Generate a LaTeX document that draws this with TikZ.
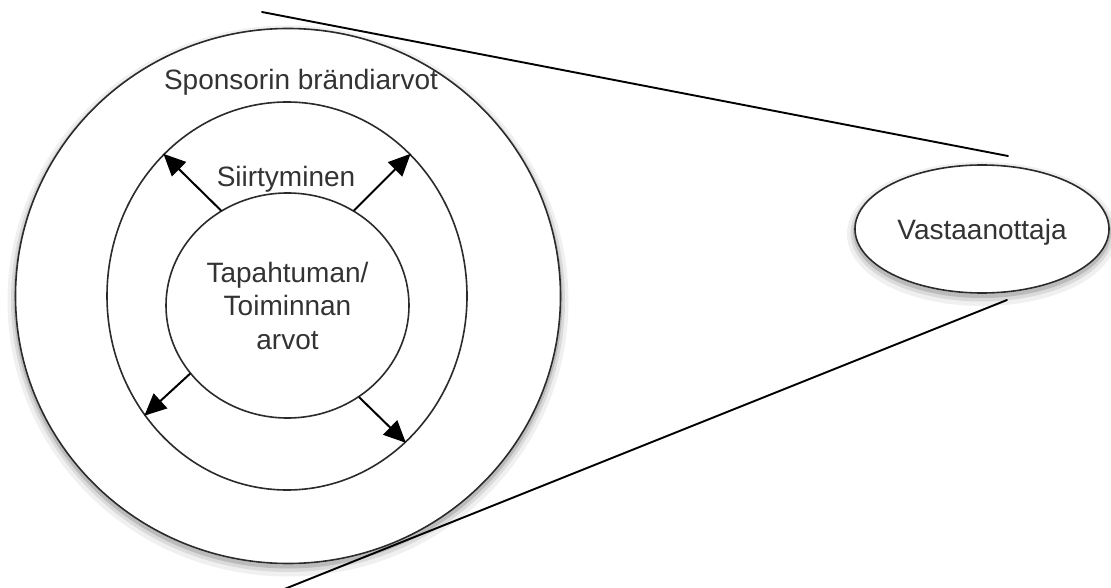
\documentclass[tikz,border=0pt]{standalone}
\usepackage{fontspec}
\setmainfont{Liberation Sans}
\usetikzlibrary{shapes.geometric,shadows,arrows.meta}
\definecolor{ringline}{HTML}{2B2B2B}
\definecolor{lbltext}{HTML}{333333}

\begin{document}
\begin{tikzpicture}[x=1pt,y=-1pt,line cap=round,line join=round,
  ring/.style={ellipse,draw=ringline,line width=1.6pt,inner sep=0pt},
  softshadow/.style={
    general shadow={draw=black,draw opacity=.06,line width=16pt,shadow yshift=-5pt},
    general shadow={draw=black,draw opacity=.09,line width=9pt,shadow yshift=-4pt},
    general shadow={draw=black,draw opacity=.14,line width=4pt,shadow yshift=-3pt}},
  lbl/.style={text=lbltext,font=\fontsize{28}{33.5}\selectfont},
  spread/.style={line width=2pt,-{Triangle[length=22pt,width=20pt]}},
  tangent/.style={line width=1.9pt}]

  \useasboundingbox (0,0) rectangle (1111,588);

  % sponsor ring, transfer ring and the event core
  \node[ring,softshadow,fill=white,minimum width=545pt,minimum height=535pt] (brand) at (288,296) {};
  \node[ring,minimum width=360pt,minimum height=388pt] (transfer) at (287,296) {};
  \node[ring,lbl,align=center,minimum width=243pt,minimum height=225pt] (core) at (287.5,305.5)
    {Tapahtuman/\\Toiminnan\\arvot};

  \node[lbl,anchor=base] (brandlbl) at (301,90) {Sponsorin brändiarvot};
  \node[lbl,anchor=base] (transferlbl) at (286,187) {Siirtyminen};

  % receiver
  \node[ring,softshadow,fill=white,lbl,text depth=0pt,minimum width=254pt,minimum height=128pt]
    (recv) at (982,229) {Vastaanottaja};

  % values spreading outwards
  \draw[spread] (core.125) -- (transfer.131);
  \draw[spread] (core.55) -- (transfer.49);
  \draw[spread] (core.215) -- (transfer.220);
  \draw[spread] (core.308) -- (transfer.309);

  % sight lines towards the receiver
  \coordinate (viewA) at (262,12);
  \coordinate (viewB) at (1008,156);
  \coordinate (viewC) at (1007,300);
  \coordinate (viewD) at (282,590);
  \draw[tangent] (viewA) -- (viewB);
  \draw[tangent] (viewC) -- (viewD);

\end{tikzpicture}
\end{document}
